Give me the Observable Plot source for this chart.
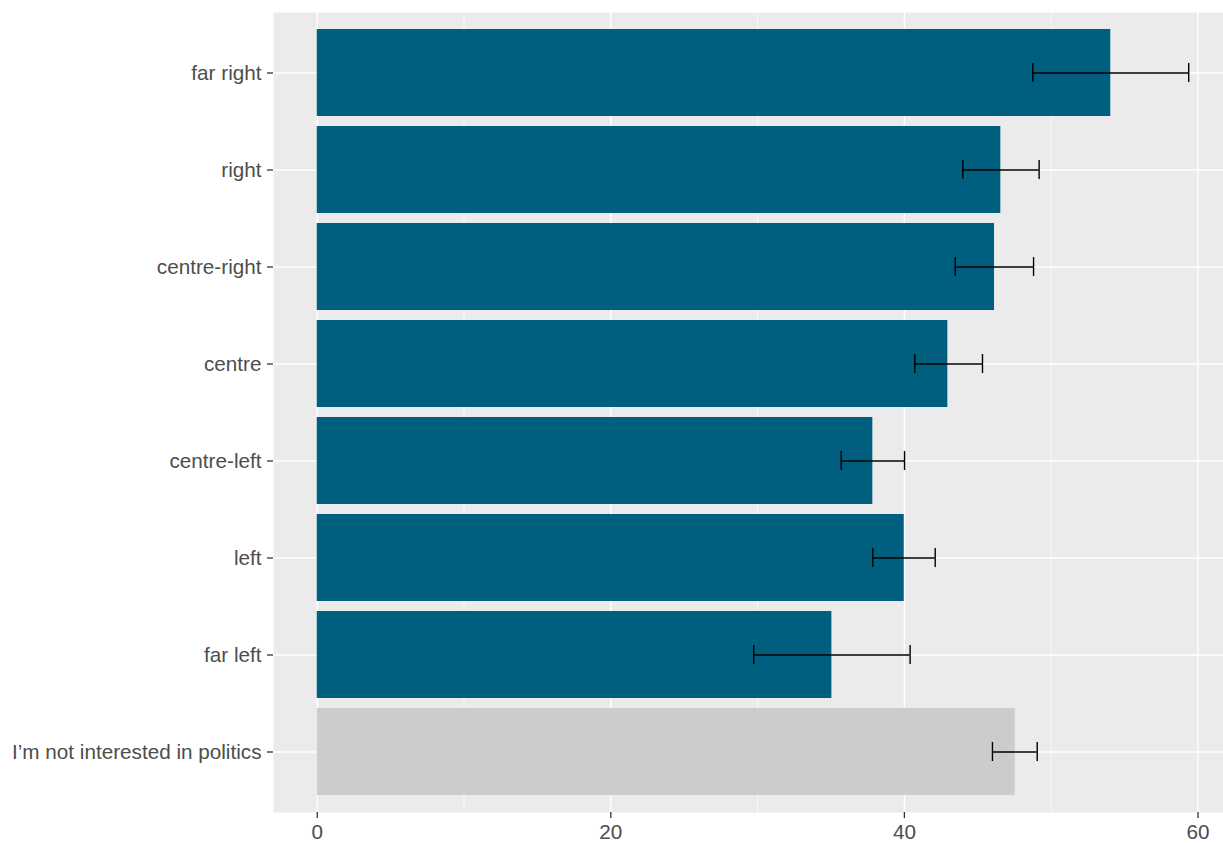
<!DOCTYPE html>
<html>
<head>
<meta charset="utf-8">
<script src="https://cdn.jsdelivr.net/npm/d3@7"></script>
<script src="https://cdn.jsdelivr.net/npm/@observablehq/plot@0.6"></script>
<style>
  html, body { margin: 0; padding: 0; background: #ffffff; }
  #chart svg { display: block; }
</style>
</head>
<body>
<div id="chart"></div>
<script>
// Categories, top to bottom
const categories = ["far right", "right", "centre-right", "centre", "centre-left", "left", "far left", "I’m not interested in politics"];
// Bar values (%)
const values = [54.06, 46.57, 46.14, 42.96, 37.85, 39.99, 35.06, 47.55];
// Error bar lower / upper bounds
const lower = [48.75, 43.98, 43.46, 40.71, 35.69, 37.85, 29.74, 46.0];
const upper = [59.37, 49.18, 48.80, 45.32, 40.01, 42.10, 40.39, 49.05];
// Group: political position vs not interested
const groups = ["pos", "pos", "pos", "pos", "pos", "pos", "pos", "none"];
const xTicks = [0, 20, 40, 60];
const xMinor = [10, 30, 50];

const data = categories.map((c, i) => ({cat: c, value: values[i], lo: lower[i], hi: upper[i], group: groups[i]}));

const chart = Plot.plot({
  width: 1223,
  height: 843,
  marginLeft: 273,
  marginRight: 0,
  marginTop: 12,
  marginBottom: 31,
  style: {fontFamily: "'Liberation Sans', Arial, sans-serif", fontSize: "20.7px", background: "#ffffff"},
  x: {domain: [-2.98, 61.74], ticks: xTicks, label: null},
  y: {domain: categories, paddingInner: 0.1, paddingOuter: 0.15, label: null},
  color: {domain: ["pos", "none"], range: ["#005f7f", "#cccccc"]},
  marks: [
    Plot.frame({fill: "#ebebeb", stroke: null}),
    Plot.ruleX(xMinor, {stroke: "#ffffff", strokeWidth: 0.7}),
    Plot.ruleX(xTicks, {stroke: "#ffffff", strokeWidth: 1.4}),
    Plot.ruleY(categories, {y: d => d, stroke: "#ffffff", strokeWidth: 1.4}),
    Plot.barX(data, {x1: 0, x2: "value", y: "cat", fill: "group"}),
    Plot.ruleY(data, {y: "cat", x1: "lo", x2: "hi", stroke: "#000000", strokeWidth: 1.4}),
    Plot.tickX(data, {x: "lo", y: "cat", stroke: "#000000", strokeWidth: 1.4, insetTop: 34, insetBottom: 34}),
    Plot.tickX(data, {x: "hi", y: "cat", stroke: "#000000", strokeWidth: 1.4, insetTop: 34, insetBottom: 34}),
    Plot.axisX(xTicks, {tickSize: 6, tickPadding: 6, stroke: "#333333", fill: "#4d4d4d", strokeWidth: 1.3, label: null}),
    Plot.axisY({tickSize: 6, tickPadding: 6, stroke: "#333333", fill: "#4d4d4d", strokeWidth: 1.3, label: null})
  ]
});
document.getElementById("chart").appendChild(chart);
</script>
</body>
</html>
